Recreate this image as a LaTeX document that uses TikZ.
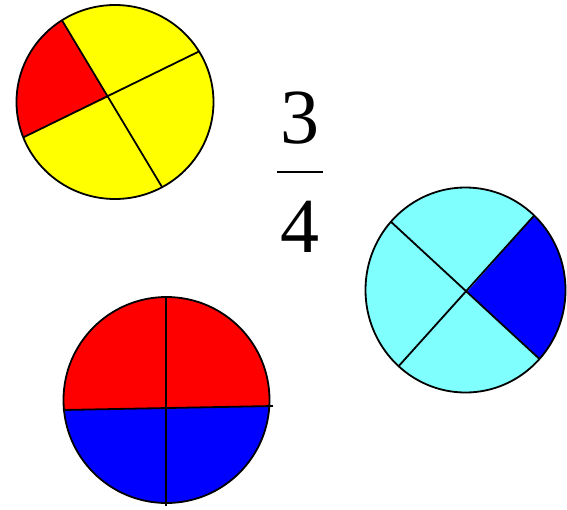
\documentclass[tikz,border=0pt]{standalone}
\usepackage{fontspec}
\setmainfont{Liberation Serif}
\definecolor{cyanl}{RGB}{128,255,255}
\definecolor{yel}{RGB}{255,255,0}
\definecolor{rd}{RGB}{255,0,0}
\definecolor{bl}{RGB}{0,0,255}
\tikzset{edge/.style={draw=black,line width=1.8pt},
  digit/.style={font=\fontsize{78}{78}\selectfont,inner sep=0pt,anchor=base}}
\begin{document}
\begin{tikzpicture}[x=1pt,y=-1pt]
\useasboundingbox (0,0) rectangle (567,509);
% circle 1
\begin{scope}
\clip (115,102) ellipse [x radius=98.5,y radius=97];
\fill[yel] (0,0) rectangle (230,210);
\fill[rd] (108,97) -- (18,-53) -- (-58,-53) -- (-58,177) -- cycle;
\draw[edge] (60,17) -- (165,192);
\draw[edge] (20,139) -- (204,49);
\end{scope}
\draw[edge] (115,102) ellipse [x radius=98.5,y radius=97];
% circle 2
\begin{scope}
\clip (465.5,290) ellipse [x radius=100,y radius=102.5];
\fill[cyanl] (360,180) rectangle (580,400);
\fill[bl] (467,292) -- (607,134) -- (640,134) -- (640,432) -- (619,432) -- cycle;
\draw[edge] (389,220) -- (546,365);
\draw[edge] (397,368) -- (540,209);
\end{scope}
\draw[edge] (465.5,290) ellipse [x radius=100,y radius=102.5];
% circle 3
\begin{scope}
\clip (166.5,400) circle [radius=103];
\fill[rd] (60,290) rectangle (280,510);
\fill[bl] (50,410) -- (63,410) -- (273,406) -- (290,406) -- (290,510) -- (50,510) -- cycle;
\end{scope}
\draw[edge] (166.5,400) circle [radius=103];
\draw[edge] (63,410) -- (273,406);
\draw[edge] (166,296) -- (166,506);
% fraction
\node[digit] (num) at (300,143) {3};
\node[digit] (den) at (300,252) {4};
\coordinate (fl) at (277,172);
\coordinate (fr) at (323,172);
\draw[line width=2.5pt] (fl) -- (fr);
\end{tikzpicture}
\end{document}
